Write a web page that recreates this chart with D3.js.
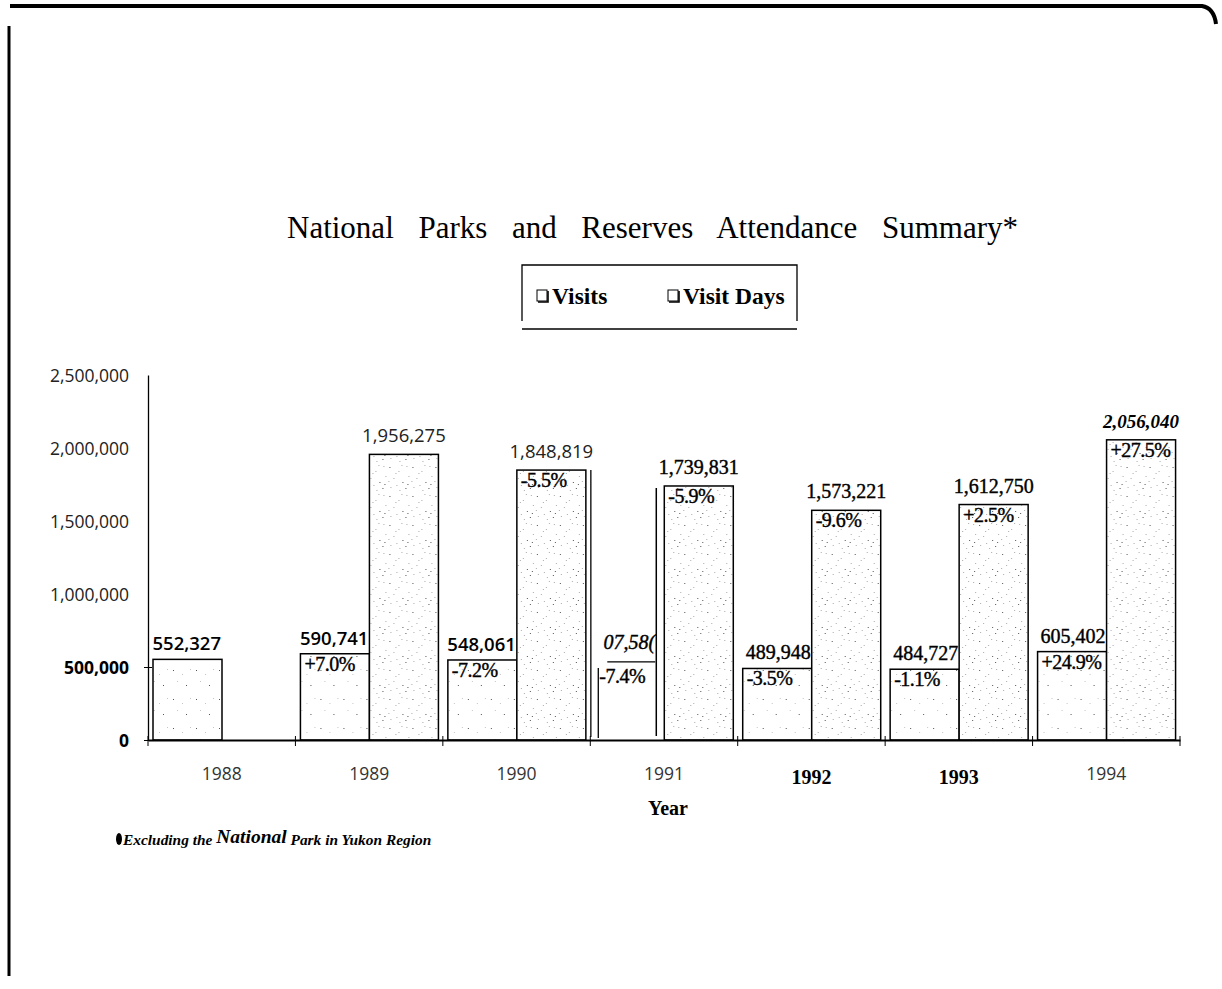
<!DOCTYPE html>
<html><head><meta charset="utf-8">
<script src="https://cdn.jsdelivr.net/npm/d3@7"></script>
<style>
html,body{margin:0;padding:0;background:#fff;}
svg{display:block;}
</style>
</head><body>
<svg id="chart" width="1222" height="989"></svg>
<script>
// ---- data ----
const years = ["1988","1989","1990","1991","1992","1993","1994"];
const visits = [552327, 590741, 548061, 507580, 489948, 484727, 605402];
const visitDays = [null, 1956275, 1848819, 1739831, 1573221, 1612750, 2056040];
const visitLabels = ["552,327","590,741","548,061","07,58(","489,948","484,727","605,402"];
const dayLabels = [null,"1,956,275","1,848,819","1,739,831","1,573,221","1,612,750","2,056,040"];
const visitChange = [null,"+7.0%","-7.2%","-7.4%","-3.5%","-1.1%","+24.9%"];
const dayChange = [null,null,"-5.5%","-5.9%","-9.6%","+2.5%","+27.5%"];
const yTicks = [0, 500000, 1000000, 1500000, 2000000, 2500000];
const yTickLabels = ["0","500,000","1,000,000","1,500,000","2,000,000","2,500,000"];
const seriesNames = ["Visits","Visit Days"];

const svg = d3.select("#chart");
const SANS = "'Open Sans', 'Noto Sans', sans-serif";
const SERIF = "'Liberation Serif', 'DejaVu Serif', serif";

// page border
svg.append("path").attr("d","M10,6 L1202,6 Q1214,8 1216,24")
  .attr("fill","none").attr("stroke","#000").attr("stroke-width",4);
svg.append("line").attr("x1",9).attr("x2",9).attr("y1",26).attr("y2",976)
  .attr("stroke","#000").attr("stroke-width",3);

// texture pattern (deterministic dots)
const defs = svg.append("defs");
function makePattern(id, dens, col){
  const p = defs.append("pattern").attr("id",id).attr("patternUnits","userSpaceOnUse")
    .attr("width",23).attr("height",29);
  p.append("rect").attr("width",23).attr("height",29).attr("fill","#fff");
  const pts = [[2,3],[11,7],[19,2],[6,14],[15,18],[21,12],[3,23],[12,26],[18,24],[8,9],[14,1],[1,17],[20,20],[9,21],[16,11],[5,27]];
  pts.slice(0,dens).forEach(([x,y],i)=>{
    p.append("rect").attr("x",x).attr("y",y).attr("width",1).attr("height",1)
     .attr("fill", i%4===0 ? "#555" : col);
  });
}
makePattern("texV", 5, "#c4c4c4");
makePattern("texD", 14, "#aaa");

// scales
const y = d3.scaleLinear().domain([0,2500000]).range([740,375]);
const x = d3.scaleBand().domain(years).range([148,1180]).padding(0);
const xi = d3.scaleBand().domain(seriesNames).range([5,143]).padding(0);

// title (spread to the reference width)
const title = svg.append("text").attr("x",287).attr("y",238)
  .attr("font-family",SERIF).attr("font-size",31)
  .text("National Parks and Reserves Attendance Summary*");
const tl = title.node().getComputedTextLength();
title.attr("word-spacing", Math.max(0,(731 - tl)/5));

// legend
const lg = svg.append("g");
lg.append("path").attr("d","M522,321 L522,265 L797,265 L797,321").attr("fill","none").attr("stroke","#000").attr("stroke-width",1.3);
lg.append("line").attr("x1",522).attr("x2",797).attr("y1",329).attr("y2",329).attr("stroke","#000").attr("stroke-width",1.3);
[[537,"Visits"],[668,"Visit Days"]].forEach(([lx,t])=>{
  lg.append("rect").attr("x",lx).attr("y",290).attr("width",10).attr("height",11).attr("fill","#fff").attr("stroke","#000").attr("stroke-width",1);
  lg.append("path").attr("d",`M${lx+1},${302} L${lx+11},${302} L${lx+11},${291}`).attr("fill","none").attr("stroke","#000").attr("stroke-width",1.6);
  lg.append("text").attr("x",lx+15).attr("y",304).attr("font-family",SERIF).attr("font-weight","bold")
    .attr("font-size",23.5).text(t);
});

// y axis
const yAxis = d3.axisLeft(y).tickValues(yTicks).tickSize(0).tickFormat((d,i)=>yTickLabels[i]);
const yg = svg.append("g").attr("transform","translate(148,0)").call(yAxis);
yg.select(".domain").attr("stroke","#000").attr("stroke-width",1.3);
yg.selectAll(".tick text").attr("x",-19).attr("dy","0.35em")
  .attr("font-family",SANS).attr("font-size",17.5)
  .attr("font-weight",d=>d<=500000?"bold":"normal")
  .attr("fill",d=>d<=500000?"#000":"#222");
yg.selectAll(".tick").filter(d=>d<=500000).append("line").attr("x1",-4).attr("x2",4).attr("stroke","#000");

// bars
const groups = svg.append("g").selectAll("g").data(years).join("g")
  .attr("transform",d=>`translate(${x(d)},0)`);

years.forEach((yr,i)=>{
  const g = groups.filter(d=>d===yr);
  const vx = xi("Visits"), vw = xi.bandwidth();
  const serif = i>=3;
  if(yr==="1991"){
    // scanned bar mostly missing: only left edge and top rule remain
    g.append("line").attr("x1",vx+3).attr("x2",vx+3).attr("y1",y(visits[i])+2).attr("y2",y(0)-2).attr("stroke","#000").attr("stroke-width",1.3);
    g.append("line").attr("x1",vx+12).attr("x2",vx+60).attr("y1",y(visits[i])-4).attr("y2",y(visits[i])-4).attr("stroke","#000").attr("stroke-width",1.3);
  } else {
    g.append("rect").attr("x",vx).attr("y",y(visits[i])).attr("width",vw).attr("height",y(0)-y(visits[i]))
     .attr("fill","url(#texV)").attr("stroke","#000").attr("stroke-width",1.5);
  }
  // visit label
  g.append("text").attr("x", yr==="1991" ? vx+60 : vx+vw-1).attr("y",y(visits[i])-(yr==="1991"?17:9)).attr("text-anchor","end")
    .attr("font-family", serif?SERIF:SANS).attr("font-weight", serif?"normal":"600")
    .attr("font-style", yr==="1991"?"italic":"normal")
    .attr("stroke", serif?"#000":"none").attr("stroke-width",0.4)
    .attr("font-size", serif?20:18.5).text(visitLabels[i]);
  if(visitChange[i]) g.append("text").attr("x",vx+4).attr("y",y(visits[i])+17)
    .attr("font-family",SERIF).attr("font-size",20).attr("stroke","#000").attr("stroke-width",0.4)
    .attr("letter-spacing",-0.5).text(visitChange[i]);

  if(visitDays[i]!=null){
    const dx = xi("Visit Days"), dw = xi.bandwidth();
    g.append("rect").attr("x",dx).attr("y",y(visitDays[i])).attr("width",dw).attr("height",y(0)-y(visitDays[i]))
     .attr("fill","url(#texD)").attr("stroke","#000").attr("stroke-width",1.5);
    g.append("text").attr("x",dx+dw/2).attr("y",y(visitDays[i])-12).attr("text-anchor","middle")
      .attr("font-family", serif?SERIF:SANS)
      .attr("font-style", i===6?"italic":"normal").attr("font-weight", i===6?"bold":"normal")
      .attr("stroke", serif && i!==6 ?"#000":"none").attr("stroke-width",0.4)
      .attr("font-size", serif?(i===6?19:20):18.5).attr("fill", serif?"#000":"#222").text(dayLabels[i]);
    if(dayChange[i]) g.append("text").attr("x",dx+4).attr("y",y(visitDays[i])+17)
      .attr("font-family",SERIF).attr("font-size",20).attr("stroke","#000").attr("stroke-width",0.4)
      .attr("letter-spacing",-0.5).text(dayChange[i]);
  }
});

// scan artefact rules beside the 1990 / 1991 visit-day bars
const dxOff = xi("Visit Days") + xi.bandwidth();
svg.append("line").attr("x1",x("1990")+dxOff+5).attr("x2",x("1990")+dxOff+5)
  .attr("y1",y(visitDays[2])).attr("y2",y(0)-3).attr("stroke","#000").attr("stroke-width",1.3);
svg.append("line").attr("x1",x("1991")+xi("Visit Days")-8).attr("x2",x("1991")+xi("Visit Days")-8)
  .attr("y1",y(visitDays[3])+2).attr("y2",y(0)-4).attr("stroke","#000").attr("stroke-width",1.5);

// x axis
const xAxis = d3.axisBottom(x).tickSize(0).tickFormat(d=>d);
const xg = svg.append("g").attr("transform",`translate(0,${y(0)})`).call(xAxis);
xg.select(".domain").attr("stroke","#000").attr("stroke-width",1.8);
const boldYear = d=>(d==="1992"||d==="1993");
xg.selectAll(".tick text").attr("dy",d=>boldYear(d)?"2.05em":"2.1em")
  .attr("font-family",d=>boldYear(d)?SERIF:SANS)
  .attr("font-weight",d=>boldYear(d)?"bold":"normal")
  .attr("font-size",d=>boldYear(d)?20:17.5)
  .attr("fill",d=>boldYear(d)?"#000":"#333");
// group boundary ticks
svg.append("g").selectAll("line").data(years.concat(["end"])).join("line")
  .attr("x1",(d,i)=>i<years.length?x(d):x(years[years.length-1])+x.bandwidth())
  .attr("x2",(d,i)=>i<years.length?x(d):x(years[years.length-1])+x.bandwidth())
  .attr("y1",y(0)-4).attr("y2",y(0)+6).attr("stroke","#000").attr("stroke-width",1);

// axis title
svg.append("text").attr("x",668).attr("y",815).attr("text-anchor","middle")
  .attr("font-family",SERIF).attr("font-weight","bold").attr("font-size",20).text("Year");

// footnote
svg.append("ellipse").attr("cx",119).attr("cy",839).attr("rx",3).attr("ry",6).attr("fill","#000");
const fn = svg.append("text").attr("x",123).attr("y",845).attr("font-family",SERIF)
  .attr("font-style","italic").attr("font-weight","bold").attr("font-size",15.4);
fn.append("tspan").text("Excluding the ");
fn.append("tspan").attr("font-size",19.5).attr("dy",-2).text("National");
fn.append("tspan").attr("dy",2).text(" Park in Yukon Region");
</script>
</body></html>
